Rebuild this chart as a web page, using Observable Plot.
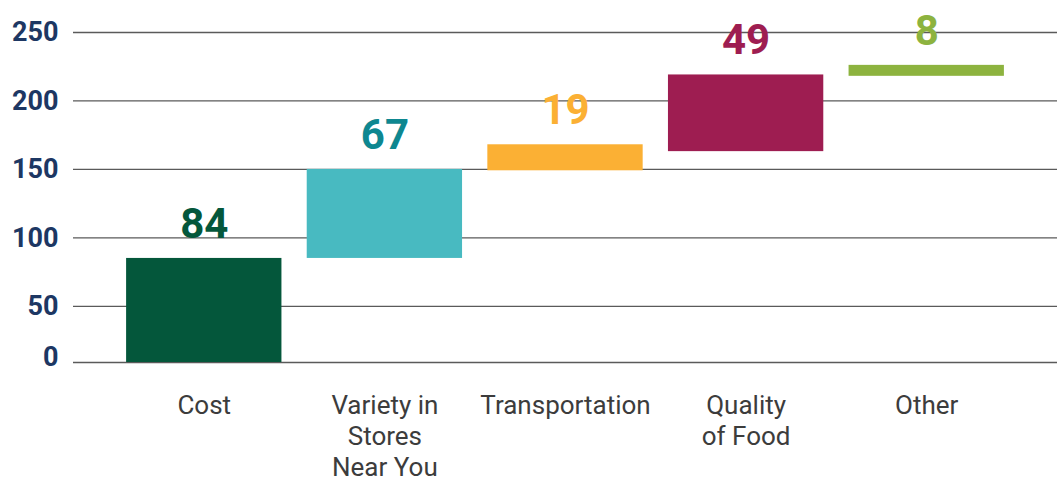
<!DOCTYPE html>
<html>
<head>
<meta charset="utf-8">
<script src="https://cdn.jsdelivr.net/npm/d3@7"></script>
<script src="https://cdn.jsdelivr.net/npm/@observablehq/plot@0.6"></script>
<style>
  html, body { margin: 0; padding: 0; background: #fff; }
  #chart svg { display: block; }
</style>
</head>
<body>
<div id="chart"></div>
<script>
const categories = ["Cost", "Variety in\nStores\nNear You", "Transportation", "Quality\nof Food", "Other"];
const valueLabels = [84, 67, 19, 49, 8];
const barStarts = [9, 85, 149, 163, 218];
const barEnds = [85, 150, 168, 219, 226];
const barColors = ["#04573B", "#48BAC1", "#FBB034", "#9E1D51", "#8DB33F"];
const labelColors = ["#04573B", "#0E8790", "#FBB034", "#9E1D51", "#8DB33F"];
const yTicks = [50, 100, 150, 200, 250];
const axisFloor = 9;
const floorLabel = "0";

const data = categories.map((c, i) => ({
  cat: c, label: valueLabels[i], start: barStarts[i], end: barEnds[i],
  color: barColors[i], labelColor: labelColors[i]
}));

const chart = Plot.plot({
  width: 1057,
  height: 484,
  marginLeft: 73,
  marginRight: 0,
  marginTop: 32,
  marginBottom: 122,
  style: { fontFamily: "Roboto, sans-serif", background: "#fff" },
  x: { type: "band", domain: categories, paddingInner: 0.14, paddingOuter: 0.294, round: false },
  y: { domain: [axisFloor, 250] },
  color: { type: "identity" },
  marks: [
    Plot.ruleY([axisFloor, ...yTicks], { stroke: "#5a5a5a", strokeWidth: 1.3 }),
    Plot.barY(data, { x: "cat", y1: "start", y2: "end", fill: "color", inset: 0 }),
    Plot.text(data, {
      x: "cat", y: "end", text: d => String(d.label), fill: "labelColor",
      dy: -34, fontSize: 42, fontWeight: "bold"
    }),
    Plot.axisY(yTicks, {
      tickSize: 0, tickPadding: 15, fontSize: 27, fontWeight: "bold",
      fill: "#1d3763", label: null
    }),
    Plot.axisY([axisFloor], {
      tickSize: 0, tickPadding: 15, fontSize: 27, fontWeight: "bold",
      fill: "#1d3763", label: null, dy: -5, tickFormat: () => floorLabel
    }),
    Plot.axisX({
      tickSize: 0, tickPadding: 30, fontSize: 26, fill: "#3c3c3c",
      lineHeight: 1.19, label: null
    })
  ]
});
document.getElementById("chart").append(chart);
</script>
</body>
</html>
